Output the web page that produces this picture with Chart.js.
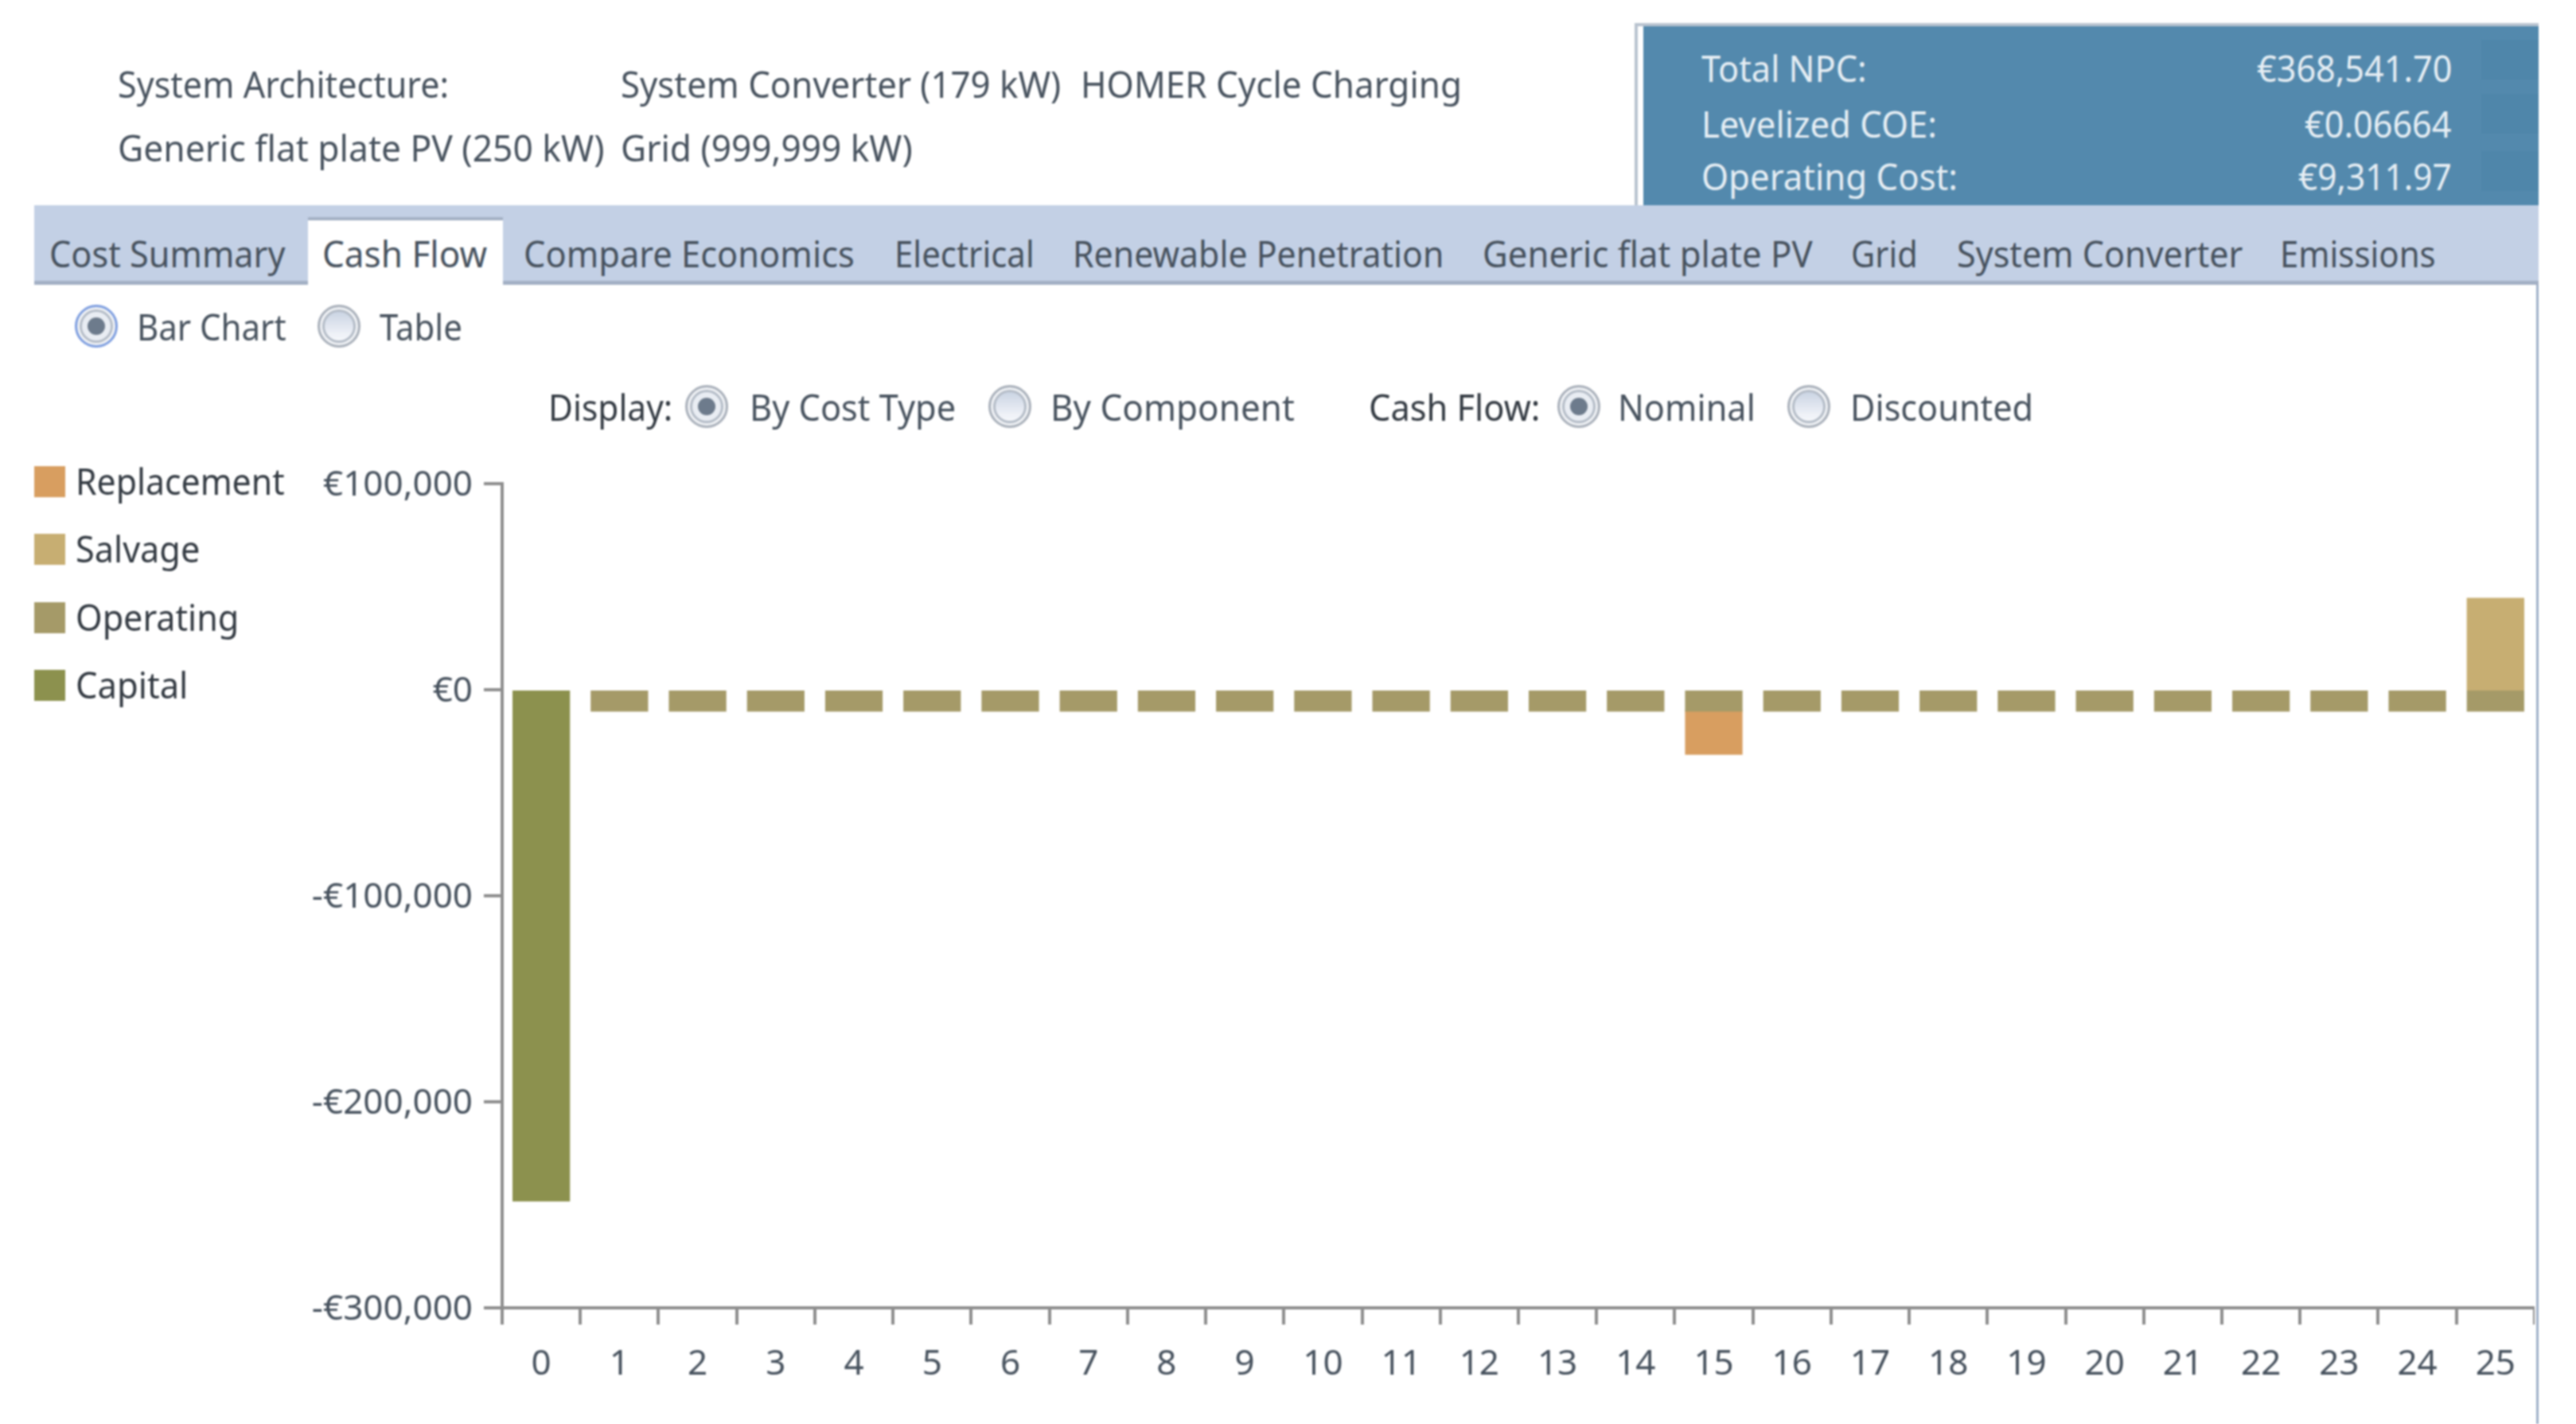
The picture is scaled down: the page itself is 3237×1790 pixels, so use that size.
<!DOCTYPE html>
<html>
<head>
<meta charset="utf-8">
<title>Cash Flow</title>
<script src="https://cdn.jsdelivr.net/npm/chart.js@4"></script>
<style>
  html, body { margin: 0; background: #fff; overflow: hidden; }
  #page { position: relative; width: 3237px; height: 1790px; overflow: hidden; filter: blur(0.9px); font-family: "Noto Sans", sans-serif; }
  #page div, #page span { position: absolute; }
  canvas { position: absolute; left: 0; top: 0; }
  .t { font-size: 46px; line-height: 60px; white-space: nowrap; transform-origin: 0 50%; color: #47525e; }
  .dark { color: #333a42; }
  .white { color: #e6eef4; }
  .radio { width: 48px; height: 48px; border: 3px solid #aab1bb; border-radius: 50%; background: linear-gradient(180deg, #c3cedf 0%, #eef1f7 70%, #fbfcfe 100%); box-shadow: inset 0 0 0 3px #f1f3f6, inset 0 0 0 6px #b4bcc7; }
  .radio.on { background: #e9edf3; }
  .radio.on::after { content: ""; position: absolute; left: 13px; top: 13px; width: 22px; height: 22px; border-radius: 50%; background: #6d7b8c; }
  .radio.focus { border-color: #7f9fe0; }
</style>
</head>
<body>
<div id="page">
  <canvas id="chart" width="3185" height="1790"></canvas>
</div>
<script>
"use strict";

const YEARS = ["0","1","2","3","4","5","6","7","8","9","10","11","12","13","14","15","16","17","18","19","20","21","22","23","24","25"];
const CAPITAL = [-248000,null,null,null,null,null,null,null,null,null,null,null,null,null,null,null,null,null,null,null,null,null,null,null,null,null];
const OPERATING = [null,-10200,-10200,-10200,-10200,-10200,-10200,-10200,-10200,-10200,-10200,-10200,-10200,-10200,-10200,-10200,-10200,-10200,-10200,-10200,-10200,-10200,-10200,-10200,-10200,-10200];
const SALVAGE = [null,null,null,null,null,null,null,null,null,null,null,null,null,null,null,null,null,null,null,null,null,null,null,null,null,43400];
const REPLACEMENT = [null,null,null,null,null,null,null,null,null,null,null,null,null,null,null,-21000,null,null,null,null,null,null,null,null,null,null];

const COLORS = { replacement: "#d89e60", salvage: "#c7ae72", operating: "#a59a68", capital: "#8c914e" };
const AXIS = "#8e8e8e";

const page = document.getElementById("page");

function box(x, y, w, h, css) {
  const el = document.createElement("div");
  el.style.cssText = `left:${x}px;top:${y}px;width:${w}px;height:${h}px;${css}`;
  page.appendChild(el);
  return el;
}

// place a label and squeeze it to the measured width from the reference
function label(text, x, y, w, cls = "", right = false) {
  const el = document.createElement("span");
  el.className = "t " + cls;
  el.textContent = text;
  page.appendChild(el);
  const sx = w / el.offsetWidth;
  el.style.left = (right ? x - w : x) + "px";
  el.style.top = (y - 32) + "px";
  el.style.transform = `scaleX(${sx})`;
}

function radio(cx, cy, on, focus) {
  const el = box(cx - 27, cy - 27, 48, 48, "");
  el.className = "radio" + (on ? " on" : "") + (focus ? " focus" : "");
}

// header
label("System Architecture:", 148, 107, 416);
label("System Converter (179 kW)", 780, 107, 553);
label("HOMER Cycle Charging", 1358, 107, 479);
label("Generic flat plate PV (250 kW)", 148, 187, 611);
label("Grid (999,999 kW)", 780, 187, 367);

// summary panel
box(2054, 29, 1136, 229, "background:#b9c3cf;");
box(2058, 33, 1132, 225, "background:#fff;");
box(2065, 33, 1125, 225, "background:#5389ad;");
box(3118, 50, 72, 50, "background:#4f86aa;");
box(3118, 118, 72, 50, "background:#4f86aa;");
box(3118, 190, 72, 50, "background:#4f86aa;");
label("Total NPC:", 2138, 87, 208, "white");
label("Levelized COE:", 2138, 157, 296, "white");
label("Operating Cost:", 2138, 223, 322, "white");
label("€368,541.70", 3081, 87, 245, "white", true);
label("€0.06664", 3081, 157, 185, "white", true);
label("€9,311.97", 3081, 223, 193, "white", true);

// tab strip
box(43, 258, 3147, 100, "background:#c3d0e5;");
box(43, 353, 3147, 5, "background:#a3b0c4;");
box(387, 273, 245, 85, "background:#fff;border-top:4px solid #a3b0c4;box-sizing:border-box;");
label("Cost Summary", 62, 320, 296);
label("Cash Flow", 405, 320, 207);
label("Compare Economics", 658, 320, 416);
label("Electrical", 1124, 320, 176);
label("Renewable Penetration", 1348, 320, 466);
label("Generic flat plate PV", 1863, 320, 415);
label("Grid", 2326, 320, 84);
label("System Converter", 2459, 320, 359);
label("Emissions", 2865, 320, 196);
box(3187, 358, 3, 1432, "background:#9fb0c8;");

// view options
radio(121, 410, true, true);
label("Bar Chart", 172, 412, 188);
radio(426, 410, false);
label("Table", 477, 412, 104);
label("Display:", 689, 513, 156, "dark");
radio(888, 511, true);
label("By Cost Type", 942, 513, 259);
radio(1269, 511, false);
label("By Component", 1320, 513, 307);
label("Cash Flow:", 1720, 513, 215, "dark");
radio(1984, 511, true);
label("Nominal", 2033, 513, 173);
radio(2273, 511, false);
label("Discounted", 2325, 513, 230);

// legend, top to bottom as in the program
const LEGEND = [
  ["Replacement", COLORS.replacement, 606, 263],
  ["Salvage", COLORS.salvage, 691, 156],
  ["Operating", COLORS.operating, 777, 205],
  ["Capital", COLORS.capital, 862, 141],
];
for (const [name, color, y, w] of LEGEND) {
  box(43, y - 20, 39, 39, `background:${color};`);
  label(name, 95, y, w, "dark");
}

function money(v) {
  const s = "€" + Math.abs(v).toLocaleString("en-US");
  return v < 0 ? "-" + s : s;
}

function series(name, data, color, extra = {}) {
  return { label: name, data, backgroundColor: color, borderWidth: 0, stack: "flow",
           barPercentage: 0.715, categoryPercentage: 1, inflateAmount: 1, ...extra };
}

// canvas text sits a touch high against the ticks, nudge the value labels down
const nudgeLabels = {
  id: "nudgeLabels",
  afterLayout(chart) {
    for (const item of chart.scales.y.getLabelItems()) item.options.translation[1] += 2;
  },
};

new Chart(document.getElementById("chart"), {
  type: "bar",
  data: {
    labels: YEARS,
    datasets: [
      series("Capital", CAPITAL, COLORS.capital),
      series("Operating", OPERATING, COLORS.operating),
      // salvage runs under the operating bar so no seam shows at zero
      series("Salvage", SALVAGE, COLORS.salvage, { inflateAmount: 3, barPercentage: 0.675 }),
      series("Replacement", REPLACEMENT, COLORS.replacement),
    ],
  },
  plugins: [nudgeLabels],
  options: {
    responsive: false,
    animation: false,
    layout: { padding: { top: 608, left: 0, right: 0, bottom: 0 } },
    plugins: { legend: { display: false }, tooltip: { enabled: false } },
    scales: {
      x: {
        stacked: true,
        afterFit: (s) => { s.height = 146; },
        grid: { drawOnChartArea: false, color: AXIS, lineWidth: 4, tickLength: 21, offset: true },
        border: { color: AXIS, width: 4 },
        ticks: { color: "#47525e", font: { family: "Noto Sans", size: 44 }, padding: 24, autoSkip: false, maxRotation: 0 },
      },
      y: {
        stacked: true,
        min: -300000,
        max: 100000,
        afterFit: (s) => { s.width = 631; },
        grid: { drawOnChartArea: false, color: AXIS, lineWidth: 4, tickLength: 23 },
        border: { color: AXIS, width: 4 },
        ticks: { stepSize: 100000, color: "#47525e", font: { family: "Noto Sans", size: 44 }, padding: 14, callback: money },
      },
    },
  },
});
</script>
</body>
</html>
